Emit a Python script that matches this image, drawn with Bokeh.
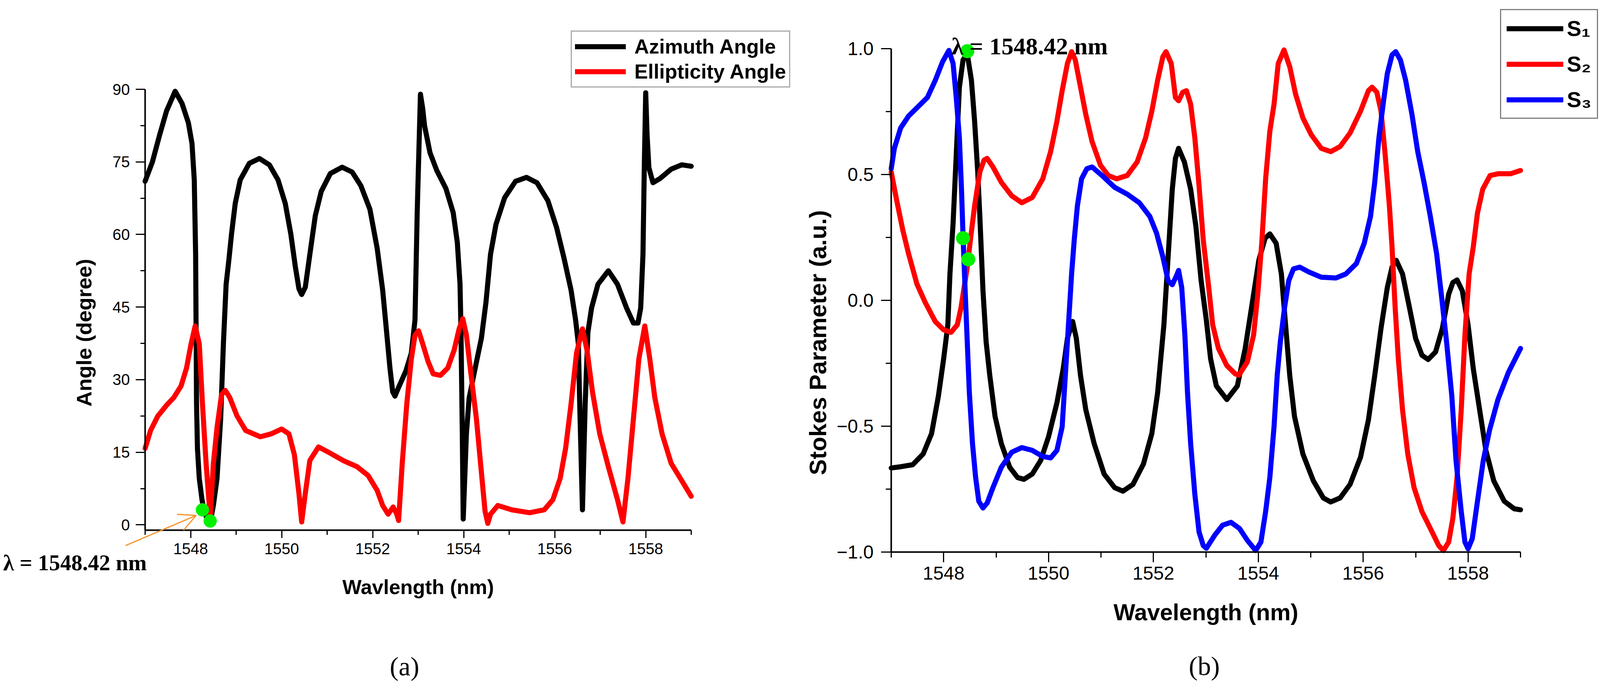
import math
from bokeh.plotting import figure
from bokeh.models import Range1d, FixedTicker, Legend, LegendItem, Label, Arrow, OpenHead
from bokeh.layouts import row
from bokeh.embed import file_html
from bokeh.resources import INLINE

# ---------------- data: panel (a) ----------------
az_x = [1547.00, 1547.16, 1547.32, 1547.47, 1547.66, 1547.81, 1547.95, 1548.03, 1548.08, 1548.11,
        1548.12, 1548.13, 1548.15, 1548.19, 1548.25, 1548.30, 1548.37, 1548.45, 1548.50, 1548.58,
        1548.66, 1548.72, 1548.78, 1548.84, 1548.90, 1548.98, 1549.09, 1549.29, 1549.51, 1549.73,
        1549.92, 1550.08, 1550.20, 1550.30, 1550.38, 1550.44, 1550.52, 1550.62, 1550.74, 1550.87,
        1551.07, 1551.33, 1551.55, 1551.74, 1551.94, 1552.10, 1552.22, 1552.30, 1552.38, 1552.44,
        1552.49, 1552.57, 1552.73, 1552.85, 1552.93, 1552.98, 1553.05, 1553.10, 1553.14, 1553.26,
        1553.41, 1553.61, 1553.77, 1553.86, 1553.92, 1553.94, 1553.97, 1553.99, 1554.06, 1554.12,
        1554.24, 1554.39, 1554.49, 1554.59, 1554.71, 1554.90, 1555.14, 1555.38, 1555.61, 1555.85,
        1556.04, 1556.20, 1556.36, 1556.46, 1556.52, 1556.55, 1556.61, 1556.67, 1556.73, 1556.81,
        1556.95, 1557.18, 1557.38, 1557.58, 1557.73, 1557.83, 1557.89, 1557.94, 1557.97, 1558.00,
        1558.03, 1558.07, 1558.16, 1558.32, 1558.56, 1558.79, 1559.00]
az_y = [71.0, 75.0, 80.6, 85.5, 89.6, 87.1, 83.1, 78.8, 71.3, 55.9,
        40.5, 25.0, 15.8, 9.6, 5.2, 2.8, 1.0, 1.5, 4.0, 9.6,
        21.9, 37.4, 49.7, 54.7, 60.2, 66.4, 71.3, 74.7, 75.7, 74.4,
        71.3, 66.4, 60.2, 53.4, 48.8, 47.6, 49.1, 55.9, 63.9, 68.9,
        72.6, 73.9, 72.9, 70.1, 65.2, 57.1, 48.5, 40.5, 32.4, 27.5,
        26.6, 28.4, 31.8, 35.5, 42.3, 65.0, 89.0, 86.0, 82.5, 76.9,
        73.2, 69.5, 64.5, 58.4, 49.7, 40.5, 18.8, 1.2, 18.8, 26.2,
        31.8, 38.6, 46.0, 55.9, 62.1, 67.6, 71.0, 71.8, 70.7, 67.0,
        61.5, 55.3, 48.5, 42.3, 37.4, 25.0, 3.1, 25.0, 39.8, 44.8,
        49.7, 52.5, 49.7, 44.8, 41.7, 41.7, 44.8, 55.9, 74.4, 89.3,
        80.6, 73.8, 70.7, 71.6, 73.5, 74.4, 74.1]

el_x = [1547.00, 1547.12, 1547.28, 1547.47, 1547.63, 1547.79, 1547.91, 1548.01, 1548.10, 1548.19,
        1548.26, 1548.34, 1548.43, 1548.50, 1548.58, 1548.68, 1548.76, 1548.86, 1549.02, 1549.21,
        1549.53, 1549.77, 1550.00, 1550.16, 1550.28, 1550.38, 1550.44, 1550.52, 1550.62, 1550.81,
        1551.07, 1551.35, 1551.66, 1551.90, 1552.10, 1552.22, 1552.34, 1552.45, 1552.53, 1552.57,
        1552.65, 1552.75, 1552.85, 1552.93, 1553.01, 1553.10, 1553.22, 1553.33, 1553.49, 1553.65,
        1553.79, 1553.90, 1553.98, 1554.06, 1554.16, 1554.28, 1554.39, 1554.47, 1554.53, 1554.59,
        1554.75, 1555.06, 1555.45, 1555.77, 1555.96, 1556.12, 1556.24, 1556.36, 1556.48, 1556.61,
        1556.71, 1556.83, 1556.99, 1557.18, 1557.38, 1557.50, 1557.61, 1557.73, 1557.85, 1557.98,
        1558.09, 1558.20, 1558.36, 1558.56, 1558.80, 1559.00]
el_y = [15.8, 19.5, 22.5, 24.7, 26.3, 28.7, 32.4, 37.4, 41.1, 37.4,
        25.0, 12.7, 1.5, 12.7, 20.1, 26.9, 27.8, 26.3, 22.5, 19.5,
        18.2, 18.8, 19.8, 18.8, 14.5, 6.5, 0.6, 6.5, 13.3, 16.1,
        14.8, 13.3, 12.0, 10.2, 7.1, 4.0, 2.2, 3.7, 2.2, 0.9,
        12.7, 25.0, 34.3, 39.2, 40.1, 37.4, 33.7, 31.2, 30.9, 32.4,
        36.1, 40.5, 42.6, 39.2, 31.2, 21.9, 10.8, 2.8, 0.3, 2.2,
        4.0, 3.1, 2.5, 3.1, 5.2, 9.6, 15.8, 25.0, 35.5, 40.5,
        36.1, 27.5, 18.8, 12.0, 5.2, 0.6, 9.6, 21.9, 34.3, 41.1,
        34.3, 26.3, 18.8, 12.7, 9.0, 5.9]

mark_a_x = [1548.26, 1548.43]
mark_a_y = [3.1, 0.8]

# ---------------- data: panel (b) ----------------
s1_x = [1547.00, 1547.18, 1547.41, 1547.61, 1547.77, 1547.90, 1548.00, 1548.08, 1548.12, 1548.18,
        1548.24, 1548.30, 1548.37, 1548.45, 1548.53, 1548.59, 1548.65, 1548.69, 1548.75, 1548.81,
        1548.88, 1548.98, 1549.10, 1549.26, 1549.41, 1549.53, 1549.69, 1549.85, 1550.00, 1550.16,
        1550.28, 1550.36, 1550.46, 1550.53, 1550.61, 1550.71, 1550.87, 1551.06, 1551.26, 1551.42,
        1551.61, 1551.81, 1551.97, 1552.08, 1552.20, 1552.28, 1552.36, 1552.42, 1552.48, 1552.59,
        1552.71, 1552.81, 1552.91, 1553.01, 1553.09, 1553.20, 1553.40, 1553.60, 1553.75, 1553.89,
        1554.01, 1554.13, 1554.22, 1554.34, 1554.44, 1554.52, 1554.60, 1554.69, 1554.85, 1555.05,
        1555.24, 1555.38, 1555.56, 1555.75, 1555.95, 1556.10, 1556.22, 1556.34, 1556.46, 1556.55,
        1556.63, 1556.75, 1556.87, 1557.00, 1557.12, 1557.24, 1557.38, 1557.51, 1557.63, 1557.71,
        1557.79, 1557.89, 1558.00, 1558.10, 1558.22, 1558.34, 1558.49, 1558.69, 1558.88, 1559.00]
s1_y = [-0.666, -0.661, -0.653, -0.610, -0.529, -0.380, -0.232, -0.097, 0.105, 0.307,
        0.577, 0.847, 0.955, 0.980, 0.874, 0.712, 0.510, 0.334, 0.038, -0.165,
        -0.299, -0.461, -0.569, -0.663, -0.704, -0.711, -0.690, -0.636, -0.542, -0.407,
        -0.272, -0.151, -0.084, -0.151, -0.299, -0.434, -0.569, -0.690, -0.744, -0.758,
        -0.731, -0.650, -0.529, -0.367, -0.097, 0.173, 0.442, 0.564, 0.604, 0.550,
        0.442, 0.294, 0.078, -0.080, -0.232, -0.340, -0.394, -0.340, -0.191, -0.003,
        0.159, 0.247, 0.264, 0.227, 0.105, -0.097, -0.299, -0.461, -0.610, -0.717,
        -0.785, -0.801, -0.785, -0.731, -0.623, -0.475, -0.299, -0.111, 0.051, 0.132,
        0.159, 0.105, -0.016, -0.151, -0.218, -0.235, -0.205, -0.111, 0.024, 0.071,
        0.081, 0.038, -0.097, -0.272, -0.434, -0.596, -0.717, -0.798, -0.828, -0.832]

s2_x = [1547.00, 1547.10, 1547.22, 1547.33, 1547.49, 1547.65, 1547.84, 1548.00, 1548.14, 1548.26,
        1548.33, 1548.39, 1548.45, 1548.51, 1548.59, 1548.69, 1548.77, 1548.83, 1548.94, 1549.10,
        1549.30, 1549.49, 1549.69, 1549.89, 1550.04, 1550.16, 1550.26, 1550.36, 1550.44, 1550.51,
        1550.61, 1550.71, 1550.83, 1550.99, 1551.14, 1551.30, 1551.50, 1551.69, 1551.85, 1551.97,
        1552.08, 1552.18, 1552.24, 1552.34, 1552.42, 1552.48, 1552.56, 1552.63, 1552.71, 1552.79,
        1552.87, 1552.95, 1553.05, 1553.13, 1553.24, 1553.40, 1553.56, 1553.63, 1553.79, 1553.91,
        1553.99, 1554.07, 1554.14, 1554.22, 1554.30, 1554.38, 1554.49, 1554.60, 1554.71, 1554.85,
        1555.01, 1555.20, 1555.38, 1555.56, 1555.75, 1555.95, 1556.10, 1556.17, 1556.26, 1556.34,
        1556.42, 1556.50, 1556.55, 1556.61, 1556.67, 1556.75, 1556.85, 1556.97, 1557.12, 1557.28,
        1557.44, 1557.53, 1557.63, 1557.71, 1557.79, 1557.87, 1557.94, 1558.02, 1558.10, 1558.18,
        1558.28, 1558.42, 1558.57, 1558.81, 1559.00]
s2_y = [0.510, 0.402, 0.280, 0.186, 0.065, -0.009, -0.084, -0.117, -0.127, -0.097,
        -0.030, 0.051, 0.132, 0.240, 0.375, 0.510, 0.557, 0.564, 0.530, 0.469,
        0.415, 0.388, 0.409, 0.483, 0.591, 0.712, 0.833, 0.941, 0.988, 0.955,
        0.847, 0.739, 0.631, 0.537, 0.496, 0.483, 0.496, 0.550, 0.645, 0.752,
        0.874, 0.968, 0.988, 0.941, 0.806, 0.793, 0.827, 0.833, 0.779, 0.645,
        0.456, 0.240, 0.060, -0.097, -0.191, -0.259, -0.292, -0.297, -0.245, -0.138,
        0.024, 0.240, 0.483, 0.672, 0.779, 0.941, 0.995, 0.928, 0.820, 0.725,
        0.658, 0.604, 0.591, 0.611, 0.665, 0.752, 0.833, 0.847, 0.827, 0.752,
        0.577, 0.375, 0.213, -0.030, -0.232, -0.434, -0.610, -0.744, -0.839, -0.906,
        -0.974, -0.994, -0.960, -0.866, -0.704, -0.434, -0.138, 0.105, 0.213, 0.348,
        0.442, 0.496, 0.503, 0.503, 0.516]

s3_x = [1547.00, 1547.06, 1547.18, 1547.33, 1547.53, 1547.69, 1547.84, 1547.98, 1548.10, 1548.18,
        1548.24, 1548.30, 1548.34, 1548.37, 1548.41, 1548.45, 1548.49, 1548.55, 1548.61, 1548.67,
        1548.75, 1548.83, 1548.94, 1549.10, 1549.30, 1549.49, 1549.69, 1549.89, 1550.04, 1550.16,
        1550.26, 1550.32, 1550.38, 1550.44, 1550.49, 1550.55, 1550.63, 1550.73, 1550.83, 1551.02,
        1551.26, 1551.50, 1551.73, 1551.93, 1552.06, 1552.18, 1552.28, 1552.36, 1552.44, 1552.48,
        1552.54, 1552.60, 1552.65, 1552.71, 1552.79, 1552.87, 1552.95, 1553.01, 1553.17, 1553.32,
        1553.48, 1553.64, 1553.79, 1553.95, 1554.05, 1554.14, 1554.22, 1554.30, 1554.36, 1554.42,
        1554.50, 1554.58, 1554.67, 1554.79, 1554.97, 1555.20, 1555.48, 1555.67, 1555.87, 1556.02,
        1556.14, 1556.22, 1556.30, 1556.38, 1556.46, 1556.55, 1556.62, 1556.71, 1556.81, 1556.93,
        1557.04, 1557.16, 1557.28, 1557.40, 1557.49, 1557.59, 1557.69, 1557.77, 1557.87, 1557.94,
        1558.00, 1558.08, 1558.17, 1558.29, 1558.41, 1558.57, 1558.77, 1559.00]
s3_y = [0.523, 0.604, 0.685, 0.732, 0.773, 0.806, 0.874, 0.948, 0.993, 0.941,
        0.806, 0.645, 0.442, 0.254, 0.038, -0.165, -0.367, -0.569, -0.704, -0.798,
        -0.825, -0.805, -0.744, -0.663, -0.603, -0.585, -0.596, -0.620, -0.626, -0.596,
        -0.502, -0.299, -0.097, 0.105, 0.240, 0.375, 0.483, 0.523, 0.530, 0.496,
        0.449, 0.422, 0.388, 0.334, 0.267, 0.173, 0.078, 0.062, 0.098, 0.119,
        0.051, -0.138, -0.367, -0.569, -0.771, -0.920, -0.974, -0.985, -0.933, -0.893,
        -0.882, -0.906, -0.953, -0.994, -0.960, -0.839, -0.704, -0.502, -0.299, -0.165,
        -0.030, 0.078, 0.125, 0.132, 0.112, 0.092, 0.089, 0.105, 0.146, 0.227,
        0.334, 0.469, 0.645, 0.779, 0.901, 0.975, 0.988, 0.955, 0.874, 0.739,
        0.591, 0.469, 0.334, 0.186, 0.024, -0.165, -0.380, -0.636, -0.839, -0.960,
        -0.987, -0.947, -0.812, -0.636, -0.515, -0.394, -0.286, -0.191]

mark_b_x = [1548.45, 1548.37, 1548.47]
mark_b_y = [0.99, 0.247, 0.163]

x_major = [1548, 1550, 1552, 1554, 1556, 1558]
x_minor = [1547, 1549, 1551, 1553, 1555, 1557, 1559]
a_y_major = [0, 15, 30, 45, 60, 75, 90]
a_y_minor = [7.5, 22.5, 37.5, 52.5, 67.5, 82.5]
b_y_major = [-1.0, -0.5, 0.0, 0.5, 1.0]
b_y_minor = [-0.75, -0.25, 0.25, 0.75]
b_y_labels = ["\u22121.0", "\u22120.5", "0.0", "0.5", "1.0"]

SANS = "Liberation Sans"
SERIF = "Liberation Serif"
GREEN = "#00F000"
ORANGE = "#F7902A"
H = 1752
LW = 13


def ranges(w, x0, x1, px_left, px_right, y0, y1, px_top, px_bottom):
    """Extend data ranges so that [x0,x1]x[y0,y1] lands on the given pixel box of a
    frame that covers the whole figure (w x H)."""
    sx = (px_right - px_left) / (x1 - x0)
    sy = (px_bottom - px_top) / (y1 - y0)
    xs = x0 - px_left / sx
    xe = xs + w / sx
    ye = y1 + px_top / sy
    ys = ye - H / sy
    return Range1d(xs, xe), Range1d(ys, ye)


def style(p, xb, yb, tick_size, title_size, xt_out, yt_out, x_std, y_std, xl_std, minor_out):
    p.xgrid.visible = False
    p.ygrid.visible = False
    p.outline_line_color = None
    p.background_fill_color = "white"
    p.border_fill_color = "white"
    p.xaxis.fixed_location = yb[0]
    p.xaxis.bounds = xb
    p.yaxis.fixed_location = xb[0]
    p.yaxis.bounds = yb
    for ax, tout, lstd in ((p.xaxis[0], xt_out, x_std), (p.yaxis[0], yt_out, y_std)):
        ax.axis_line_width = 4
        ax.axis_line_color = "black"
        ax.major_tick_line_width = 3
        ax.minor_tick_line_width = 3
        ax.major_tick_in = 0
        ax.major_tick_out = tout
        ax.minor_tick_in = 0
        ax.minor_tick_out = minor_out
        ax.major_label_text_font = SANS
        ax.major_label_text_font_size = tick_size
        ax.major_label_text_color = "black"
        ax.major_label_standoff = lstd
    xa = p.xaxis[0]
    xa.axis_label_text_font = SANS
    xa.axis_label_text_font_style = "bold"
    xa.axis_label_text_font_size = title_size
    xa.axis_label_text_color = "black"
    xa.axis_label_standoff = xl_std


def ytitle(p, text, x, y, size):
    p.add_layout(Label(x=x, y=y, text=text, angle=math.pi / 2, text_font=SANS,
                       text_font_style="bold", text_font_size=size, text_color="black",
                       text_align="center", text_baseline="middle"))


# ---------------- panel (a) ----------------
WA = 2039
xra, yra = ranges(WA, 1547, 1559, 371, 1769, -1.1, 90, 228, 1356)
pa = figure(output_backend="svg", toolbar_location=None, width=WA, height=H,
            min_border_left=0, min_border_right=0, min_border_top=0, min_border_bottom=0,
            x_range=xra, y_range=yra)
pa.xaxis.ticker = FixedTicker(ticks=x_major, minor_ticks=x_minor)
pa.yaxis.ticker = FixedTicker(ticks=a_y_major, minor_ticks=a_y_minor)
pa.xaxis.axis_label = "Wavlength (nm)"
style(pa, (1547, 1559), (-1.1, 90), "40px", "52px", 20, 24, 13, 15, 52, 12)
ytitle(pa, "Angle (degree)", 1545.66, 39.7, "54px")

ra1 = pa.line(az_x, az_y, line_color="black", line_width=LW, line_join="round", line_cap="round")
ra2 = pa.line(el_x, el_y, line_color="#FF0000", line_width=LW, line_join="round", line_cap="round")
pa.scatter(mark_a_x, mark_a_y, size=34, fill_color=GREEN, line_color=None)

leg_a = Legend(items=[LegendItem(label="Azimuth Angle", renderers=[ra1]),
                      LegendItem(label="Ellipticity Angle", renderers=[ra2])],
               location=(1461, H - 224), orientation="vertical",
               label_text_font=SANS, label_text_font_style="bold", label_text_font_size="52px",
               label_text_color="black", glyph_width=130, glyph_height=52, label_height=52,
               label_standoff=22, spacing=4, padding=8, margin=0,
               border_line_color="#555555", border_line_width=3, background_fill_alpha=1.0)
pa.add_layout(leg_a)

pa.add_layout(Label(x=1543.88, y=-7.8, text="\u03bb = 1548.42 nm", text_font=SERIF,
                    text_font_style="bold", text_font_size="57px", text_color="black",
                    text_align="left", text_baseline="alphabetic"))
pa.add_layout(Arrow(end=OpenHead(size=44, line_color=ORANGE, line_width=3),
                    x_start=1546.57, y_start=-4.28, x_end=1548.12, y_end=1.94,
                    line_color=ORANGE, line_width=3))
pa.add_layout(Label(x=1552.70, y=-29.24, text="(a)", text_font=SERIF, text_font_size="68px",
                    text_color="black", text_align="center", text_baseline="middle"))

# ---------------- panel (b) ----------------
WB = 2065
xrb, yrb = ranges(WB, 1547, 1559, 242, 1853, -1.0, 1.0, 124, 1412)
pb = figure(output_backend="svg", toolbar_location=None, width=WB, height=H,
            min_border_left=0, min_border_right=0, min_border_top=0, min_border_bottom=0,
            x_range=xrb, y_range=yrb)
pb.xaxis.ticker = FixedTicker(ticks=x_major, minor_ticks=x_minor)
pb.yaxis.ticker = FixedTicker(ticks=b_y_major, minor_ticks=b_y_minor)
pb.yaxis.major_label_overrides = {t: lab for t, lab in zip(b_y_major, b_y_labels)}
pb.xaxis.axis_label = "Wavelength (nm)"
style(pb, (1547, 1559), (-1.0, 1.0), "48px", "59px", 26, 26, 11, 19, 48, 14)
ytitle(pb, "Stokes Parameter (a.u.)", 1545.60, -0.168, "61px")

rb1 = pb.line(s1_x, s1_y, line_color="black", line_width=LW, line_join="round", line_cap="round")
rb2 = pb.line(s2_x, s2_y, line_color="#FF0000", line_width=LW, line_join="round", line_cap="round")
rb3 = pb.line(s3_x, s3_y, line_color="#0000FF", line_width=LW, line_join="round", line_cap="round")
pb.scatter(mark_b_x, mark_b_y, size=36, fill_color=GREEN, line_color=None)

leg_b = Legend(items=[LegendItem(label="S\u2081", renderers=[rb1]),
                      LegendItem(label="S\u2082", renderers=[rb2]),
                      LegendItem(label="S\u2083", renderers=[rb3])],
               location=(1801, H - 304), orientation="vertical",
               label_text_font=SANS, label_text_font_style="bold", label_text_font_size="56px",
               label_text_color="black", glyph_width=145, glyph_height=64, label_height=64,
               label_standoff=9, spacing=26, padding=14, margin=0,
               border_line_color="black", border_line_width=3, background_fill_alpha=1.0)
pb.add_layout(leg_b)

pb.add_layout(Label(x=1548.15, y=1.01, text="\u03bb = 1548.42 nm", text_font=SERIF,
                    text_font_style="bold", text_font_size="62px", text_color="black",
                    text_align="left", text_baseline="alphabetic"))
pb.add_layout(Label(x=1552.97, y=-1.453, text="(b)", text_font=SERIF, text_font_size="68px",
                    text_color="black", text_align="center", text_baseline="middle"))

layout = row(pa, pb)
open("out.html", "w").write(file_html(layout, INLINE))
